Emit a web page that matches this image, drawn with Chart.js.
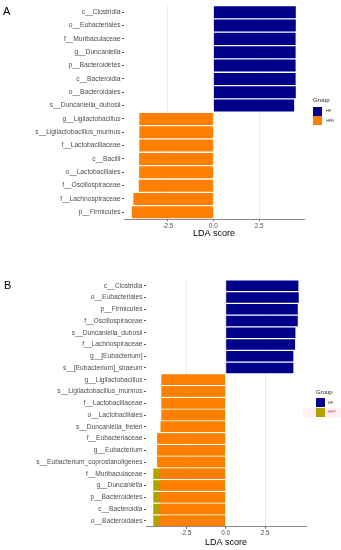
<!DOCTYPE html>
<html>
<head>
<meta charset="utf-8">
<script src="https://cdn.jsdelivr.net/npm/chart.js@4.4.1/dist/chart.umd.min.js"></script>
<style>
    body { margin: 0; background: #fff; font-family: "Liberation Sans", Arial, sans-serif; }
    #page { position: relative; width: 341px; height: 550px; overflow: hidden; }
    .pnl { position: absolute; left: 0; }
    .tag { position: absolute; font-size: 11px; color: #000; line-height: 11px; }
    .lg { position: absolute; font-size: 6px; color: #222; line-height: 6px; white-space: nowrap; }
    .sw { position: absolute; width: 9px; height: 9px; }
    .lt { position: absolute; font-size: 4px; line-height: 4px; color: #333; }
</style>
</head>
<body>
<div id="page">
    <canvas id="chartA" class="pnl" style="top:0" width="341" height="250"></canvas>
    <canvas id="chartB" class="pnl" style="top:270px" width="341" height="280"></canvas>

    <div class="tag" style="left:3px;top:6px">A</div>
    <div class="tag" style="left:4px;top:280px">B</div>

    <!-- legend A -->
    <div class="lg" style="left:313px;top:97px">Group</div>
    <div class="sw" style="left:313px;top:107px;background:#00008B"></div>
    <div class="sw" style="left:313px;top:116px;background:#FF7F00"></div>
    <div class="lt" style="left:326px;top:109px">HF</div>
    <div class="lt" style="left:326px;top:118.5px">HFB</div>

    <!-- legend B -->
    <div style="position:absolute;left:303px;top:408px;width:38px;height:9px;background:#fff0f7"></div>
    <div class="lg" style="left:316px;top:389px">Group</div>
    <div class="sw" style="left:316px;top:398px;background:#00008B"></div>
    <div class="sw" style="left:316px;top:407.5px;background:#B5A000"></div>
    <div class="lt" style="left:328px;top:400.5px">HF</div>
    <div class="lt" style="left:328px;top:410px;color:#d8407e">HFP</div>
</div>

<script>
    // panel A
    var aLabels = ["c__Clostridia", "o__Eubacteriales", "f__Muribaculaceae", "g__Duncaniella",
        "p__Bacteroidetes", "c__Bacteroidia", "o__Bacteroidales", "s__Duncaniella_dubosii",
        "g__Ligilactobacillus", "s__Ligilactobacillus_murinus", "f__Lactobacillaceae", "c__Bacilli",
        "o__Lactobacillales", "f__Oscillospiraceae", "f__Lachnospiraceae", "p__Firmicutes"];
    var aHF = [4.51, 4.51, 4.50, 4.50, 4.50, 4.50, 4.51, 4.42,
        null, null, null, null, null, null, null, null];
    var aHFB = [null, null, null, null, null, null, null, null,
        -4.06, -4.06, -4.06, -4.07, -4.07, -4.09, -4.39, -4.47];

    // panel B
    var bLabels = ["c__Clostridia", "o__Eubacteriales", "p__Firmicutes", "f__Oscillospiraceae",
        "s__Duncaniella_dubosii", "f__Lachnospiraceae", "g__[Eubacterium]", "s__[Eubacterium]_siraeum",
        "g__Ligilactobacillus", "s__Ligilactobacillus_murinus", "f__Lactobacillaceae", "o__Lactobacillales",
        "s__Duncaniella_freteri", "f__Eubacteriaceae", "g__Eubacterium", "s__Eubacterium_coprostanoligenes",
        "f__Muribaculaceae", "g__Duncaniella", "p__Bacteroidetes", "c__Bacteroidia", "o__Bacteroidales"];
    var bHF = [4.60, 4.62, 4.56, 4.56, 4.41, 4.39, 4.28, 4.28,
        null, null, null, null, null, null, null, null, null, null, null, null, null];
    var bHFP = [null, null, null, null, null, null, null, null,
        -4.06, -4.06, -4.06, -4.06, -4.12, -4.33, -4.33, -4.33, -4.58, -4.58, -4.58, -4.58, -4.58];
    // orange patch painted over the HFP bars in the figure
    var bPatch = [null, null, null, null, null, null, null, null,
        [-4.05, -0.07], [-4.05, -0.07], [-4.05, -0.07], [-4.05, -0.07], [-4.10, -0.07],
        [-4.31, -0.07], [-4.31, -0.07], [-4.31, -0.07],
        [-4.14, -0.07], [-4.14, -0.07], [-4.14, -0.07], [-4.14, -0.07], [-4.14, -0.07]];

    var xTicks = [-2.5, 0, 2.5];

    var FONT = "'Liberation Sans', Arial, sans-serif";
    var BLUE = "#00008B", ORANGE = "#FF7F00", OLIVE = "#B5A000";

    function bar(data, color, order) {
        return {
            data: data,
            backgroundColor: color,
            borderWidth: 0,
            grouped: false,
            order: order || 1,
            barPercentage: 1,
            categoryPercentage: 0.9
        };
    }

    function makeChart(id, labels, datasets, cfg) {
        return new Chart(document.getElementById(id), {
            type: 'bar',
            data: { labels: labels, datasets: datasets },
            options: {
                indexAxis: 'y',
                responsive: false,
                animation: false,
                layout: { padding: { top: cfg.top, right: cfg.right, bottom: cfg.bottom, left: 0 } },
                plugins: { legend: { display: false }, tooltip: { enabled: false } },
                scales: {
                    x: {
                        type: 'linear',
                        min: cfg.min,
                        max: cfg.max,
                        afterBuildTicks: function (s) {
                            s.ticks = xTicks.map(function (v) { return { value: v }; });
                        },
                        afterFit: function (s) { s.height = cfg.xh; },
                        grid: { color: '#ebebeb', lineWidth: 1, tickLength: 2, tickColor: '#555' },
                        border: { display: true, color: '#8a8a8a', width: 1 },
                        ticks: {
                            padding: 1,
                            color: '#4d4d4d',
                            font: { family: FONT, size: 6.3 },
                            callback: function (v) { return v.toFixed(1); }
                        },
                        title: {
                            display: true,
                            text: 'LDA score',
                            color: '#000',
                            padding: 0,
                            font: { family: FONT, size: 9 }
                        }
                    },
                    y: {
                        afterFit: function (s) { s.width = cfg.left; },
                        grid: { drawOnChartArea: false, offset: false, tickLength: 2, tickColor: '#555' },
                        border: { display: false },
                        ticks: {
                            padding: 1.5,
                            autoSkip: false,
                            color: '#4d4d4d',
                            font: { family: FONT, size: 6.7 }
                        }
                    }
                }
            }
        });
    }

    makeChart('chartA', aLabels, [bar(aHF, BLUE), bar(aHFB, ORANGE)],
        { min: -4.9, max: 4.96, left: 124, right: 37, top: 5.5, bottom: 11, xh: 20 });

    makeChart('chartB', bLabels, [bar(bPatch, ORANGE, 0.5), bar(bHF, BLUE), bar(bHFP, OLIVE)],
        { min: -5.04, max: 5.08, left: 146, right: 35, top: 9.8, bottom: 2.3, xh: 21 });
</script>
</body>
</html>
